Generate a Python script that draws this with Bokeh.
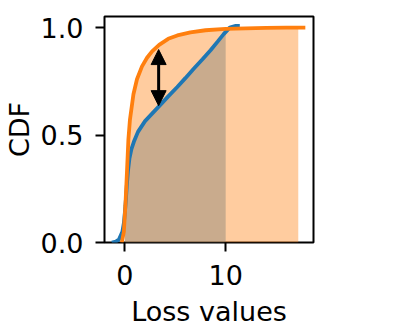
import numpy as np
from bokeh.plotting import figure
from bokeh.models import Range1d, FixedTicker, NumeralTickFormatter, Arrow, NormalHead
from bokeh.embed import file_html
from bokeh.resources import INLINE

# ---- data ----
blue_x = [-1.3, -0.9, -0.6, -0.25, -0.1, 0.0, 0.1, 0.2, 0.3, 0.45, 0.65, 0.9, 1.3, 2.0,
          2.7, 3.4, 4.3, 5.2, 6.0, 6.85, 7.7, 8.5, 9.2, 9.8, 10.4, 11.0, 11.4]
blue_y = [0.0, 0.004, 0.013, 0.05, 0.09, 0.14, 0.2, 0.27, 0.33, 0.39, 0.435, 0.47, 0.515, 0.565,
          0.6, 0.635, 0.68, 0.724, 0.765, 0.81, 0.853, 0.895, 0.935, 0.97, 1.0, 1.008, 1.008]

orange_x = [-0.3, -0.1, 0.05, 0.2, 0.35, 0.5, 0.85, 1.2, 1.7, 2.2, 2.7, 3.4,
            4.3, 5.2, 6.5, 8.0, 10.0, 12.0, 14.0, 16.0, 17.9]
orange_y = [0.0, 0.05, 0.17, 0.32, 0.48, 0.57, 0.69, 0.76, 0.82, 0.86, 0.89, 0.92,
            0.948, 0.964, 0.978, 0.988, 0.994, 0.997, 0.999, 1.0, 1.0]

blue_fill_range = [0.0, 10.0]
orange_fill_range = [0.0, 17.2]

arrow_x = 3.35
arrow_y_top = 0.898
arrow_y_bottom = 0.637

x_ticks = [0, 10]
y_ticks = [0.0, 0.5, 1.0]

BLUE = "#1f77b4"
ORANGE = "#ff7f0e"
FONT = "DejaVu Sans"


def fill_region(xs, ys, lo, hi):
    xs = np.asarray(xs, float)
    ys = np.asarray(ys, float)
    inside = (xs > lo) & (xs < hi)
    fx = np.concatenate([[lo], xs[inside], [hi]])
    fy = np.concatenate([[np.interp(lo, xs, ys)], ys[inside], [np.interp(hi, xs, ys)]])
    return fx, fy


p = figure(
    width=410, height=329,
    x_range=Range1d(-2.02, 18.71), y_range=Range1d(0, 1.052),
    output_backend="svg", toolbar_location=None,
    min_border_left=104, min_border_right=97, min_border_top=16, min_border_bottom=86,
)
p.background_fill_color = "white"
p.border_fill_color = "white"
p.xgrid.visible = False
p.ygrid.visible = False
p.outline_line_color = "black"
p.outline_line_width = 2
p.outline_line_alpha = 1.0

bfx, bfy = fill_region(blue_x, blue_y, *blue_fill_range)
ofx, ofy = fill_region(orange_x, orange_y, *orange_fill_range)
p.varea(x=bfx, y1=0, y2=bfy, fill_color=BLUE, fill_alpha=0.4)
p.varea(x=ofx, y1=0, y2=ofy, fill_color=ORANGE, fill_alpha=0.4)

p.line(blue_x, blue_y, line_color=BLUE, line_width=3.8)
p.line(orange_x, orange_y, line_color=ORANGE, line_width=3.8)

p.add_layout(Arrow(
    start=NormalHead(size=15, fill_color="black", line_color="black", line_width=1),
    end=NormalHead(size=15, fill_color="black", line_color="black", line_width=1),
    x_start=arrow_x, y_start=arrow_y_bottom, x_end=arrow_x, y_end=arrow_y_top,
    line_color="black", line_width=3,
))

for ax in (p.xaxis[0], p.yaxis[0]):
    ax.axis_line_color = None
    ax.major_tick_line_color = "black"
    ax.major_tick_line_width = 2
    ax.major_tick_out = 9
    ax.major_tick_in = 0
    ax.minor_tick_line_color = None
    ax.major_label_text_font = FONT
    ax.major_label_text_font_size = "27px"
    ax.major_label_text_color = "black"
    ax.axis_label_text_font = FONT
    ax.axis_label_text_font_size = "27px"
    ax.axis_label_text_font_style = "normal"
    ax.axis_label_text_color = "black"

p.xaxis.ticker = FixedTicker(ticks=x_ticks)
p.yaxis.ticker = FixedTicker(ticks=y_ticks)
p.yaxis.formatter = NumeralTickFormatter(format="0.0")
p.xaxis.axis_label = "Loss values"
p.yaxis.axis_label = "CDF"
p.xaxis.major_label_standoff = 13
p.yaxis.major_label_standoff = 12
p.xaxis.axis_label_standoff = 8
p.yaxis.axis_label_standoff = 3

open("out.html", "w").write(file_html(p, INLINE))
